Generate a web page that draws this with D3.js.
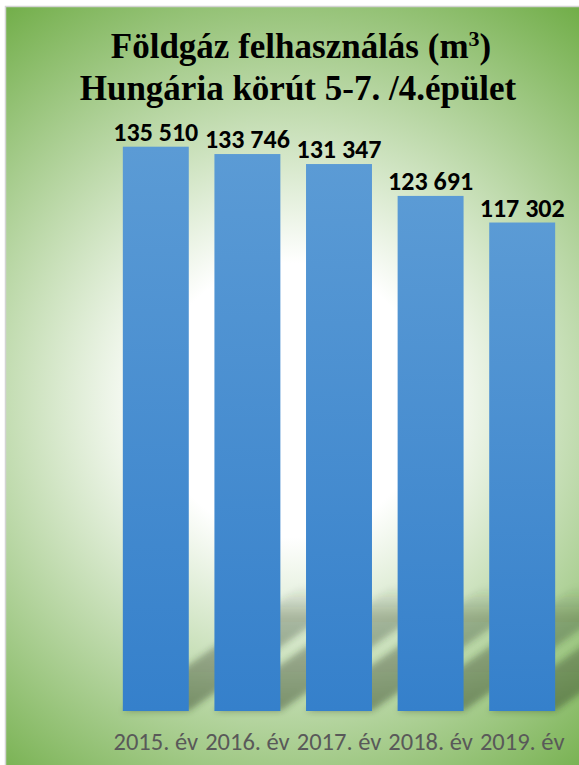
<!DOCTYPE html>
<html>
<head>
<meta charset="utf-8">
<script src="https://cdn.jsdelivr.net/npm/d3@7"></script>
<style>
    body { margin: 0; background: #fff; }
    svg { display: block; }
</style>
</head>
<body>
<svg id="chart" width="579" height="765"></svg>
<script>
var years = ['2015. év', '2016. év', '2017. év', '2018. év', '2019. év'];
var values = [135510, 133746, 131347, 123691, 117302];
var valueLabels = ['135 510', '133 746', '131 347', '123 691', '117 302'];

var width = 579,
    height = 765;

var svg = d3.select('#chart');
var defs = svg.append('defs');

// background gradient, white in the middle, green at the edges
var bg = defs.append('radialGradient')
    .attr('id', 'bgGrad')
    .attr('gradientUnits', 'userSpaceOnUse')
    .attr('cx', 290).attr('cy', 400).attr('r', 490);
bg.append('stop').attr('offset', 0.28).attr('stop-color', '#ffffff');
bg.append('stop').attr('offset', 1).attr('stop-color', '#70ad47');

var barGrad = defs.append('linearGradient')
    .attr('id', 'barGrad')
    .attr('x1', 0).attr('y1', 0).attr('x2', 0).attr('y2', 1);
barGrad.append('stop').attr('offset', 0).attr('stop-color', '#5b9bd5');
barGrad.append('stop').attr('offset', 1).attr('stop-color', '#3580cb');

// shadow fades out towards its top
var shadowGrad = defs.append('linearGradient')
    .attr('id', 'shadowGrad')
    .attr('x1', 0).attr('y1', 1).attr('x2', 0).attr('y2', 0);
shadowGrad.append('stop').attr('offset', 0).attr('stop-color', '#2f3d26').attr('stop-opacity', 0.45);
shadowGrad.append('stop').attr('offset', 0.75).attr('stop-color', '#2f3d26').attr('stop-opacity', 0.3);
shadowGrad.append('stop').attr('offset', 1).attr('stop-color', '#2f3d26').attr('stop-opacity', 0);

defs.append('filter')
    .attr('id', 'blur')
    .attr('x', '-20%').attr('y', '-20%').attr('width', '140%').attr('height', '140%')
    .append('feGaussianBlur')
    .attr('stdDeviation', 3);

// panel + thin grey border on top and left
svg.append('rect')
    .attr('x', 5).attr('y', 6)
    .attr('width', width - 5).attr('height', height - 6)
    .attr('fill', 'url(#bgGrad)');
svg.append('path')
    .attr('d', 'M5.5,' + height + 'V6.5H' + width)
    .attr('fill', 'none')
    .attr('stroke', '#d4d4d4')
    .attr('stroke-width', 1.5);

var x = d3.scaleBand()
    .domain(years)
    .range([110, 568])
    .paddingInner(0.28)
    .paddingOuter(0.14);

var y = d3.scaleLinear()
    .domain([0, 140000])
    .range([711, 128]);

var data = years.map(function(d, i) {
    return { year: d, value: values[i], label: valueLabels[i] };
});

// perspective shadows, sheared up and to the right
var shH = 125, shear = 1.43;
svg.selectAll('.shadow')
    .data(data)
    .enter()
    .append('path')
        .attr('class', 'shadow')
        .attr('d', function(d) {
            var x0 = x(d.year), w = x.bandwidth(), b = y(0);
            return 'M' + x0 + ',' + b + 'L' + (x0 + w) + ',' + b +
                'L' + (x0 + w + shH * shear) + ',' + (b - shH) +
                'L' + (x0 + shH * shear) + ',' + (b - shH) + 'Z';
        })
        .attr('fill', 'url(#shadowGrad)')
        .attr('filter', 'url(#blur)');

svg.selectAll('.bar')
    .data(data)
    .enter()
    .append('rect')
        .attr('class', 'bar')
        .attr('x', function(d) { return x(d.year); })
        .attr('y', function(d) { return y(d.value); })
        .attr('width', x.bandwidth())
        .attr('height', function(d) { return y(0) - y(d.value); })
        .attr('fill', 'url(#barGrad)');

svg.selectAll('.value')
    .data(data)
    .enter()
    .append('text')
        .attr('class', 'value')
        .attr('x', function(d) { return x(d.year) + x.bandwidth() / 2; })
        .attr('y', function(d) { return y(d.value) - 6; })
        .attr('text-anchor', 'middle')
        .attr('font-family', 'Carlito, Lato, sans-serif')
        .attr('font-weight', 'bold')
        .attr('font-size', 26)
        .attr('fill', '#000')
        .text(function(d) { return d.label; });

// category axis, no line or ticks
var xAxis = svg.append('g')
    .attr('transform', 'translate(0,' + y(0) + ')')
    .call(d3.axisBottom(x).tickSize(0).tickPadding(0));
xAxis.select('.domain').remove();
xAxis.selectAll('text')
    .attr('dy', 0)
    .attr('y', 39)
    .attr('font-family', 'Carlito, Lato, sans-serif')
    .attr('font-size', 24.5)
    .attr('fill', '#595959');

// title
var title = svg.append('text')
    .attr('text-anchor', 'middle')
    .attr('font-family', '"Liberation Serif", "Times New Roman", serif')
    .attr('font-weight', 'bold')
    .attr('font-size', 35)
    .attr('fill', '#000');
var t1 = title.append('tspan').attr('x', 301).attr('y', 58);
t1.append('tspan').text('Földgáz felhasználás (m');
t1.append('tspan').attr('baseline-shift', 'super').attr('font-size', 22).text('3');
t1.append('tspan').text(')');
title.append('tspan').attr('x', 298).attr('y', 100).text('Hungária körút 5-7. /4.épület');
</script>
</body>
</html>
